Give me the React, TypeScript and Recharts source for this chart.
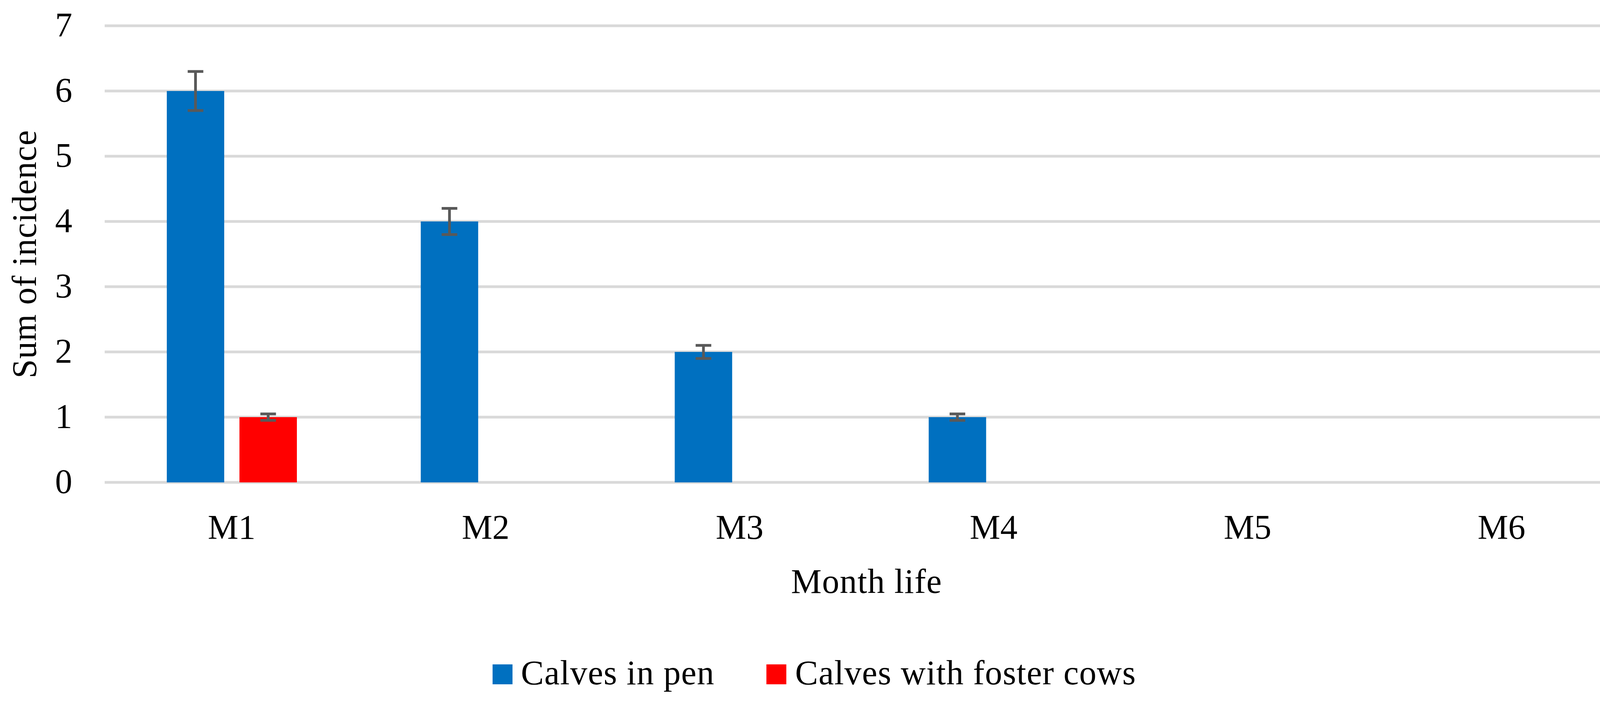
import React from 'react';
import { BarChart, Bar, XAxis, YAxis, CartesianGrid, ErrorBar, Legend, Label } from 'recharts';

const categories = ['M1', 'M2', 'M3', 'M4', 'M5', 'M6'];
const penValues = [6, 4, 2, 1, 0, 0];
const penErrors: (number | null)[] = [0.3, 0.2, 0.1, 0.05, null, null];
const fosterValues = [1, 0, 0, 0, 0, 0];
const fosterErrors: (number | null)[] = [0.05, null, null, null, null, null];
const yTicks = [0, 1, 2, 3, 4, 5, 6, 7];

const seriesNames = ['Calves in pen', 'Calves with foster cows'];
const seriesColors = ['#0070C0', '#FF0000'];

const data = categories.map((c, i) => {
  const row: any = { name: c, pen: penValues[i], foster: fosterValues[i] };
  if (penErrors[i] != null) row.penErr = penErrors[i];
  if (fosterErrors[i] != null) row.fosterErr = fosterErrors[i];
  return row;
});

const FONT = '"Liberation Serif", serif';
const FS = 88;
const LS = 1.3;

const YTitle = (props: any) => {
  const vb = props.viewBox || { x: 0, y: 0, width: 0, height: 0 };
  const cx = vb.x + 92;
  const cy = vb.y + vb.height / 2;
  return (
    <text x={cx} y={cy} transform={`rotate(-90, ${cx}, ${cy})`} textAnchor="middle" fontFamily={FONT} fontSize={FS} fill="#000" style={{ letterSpacing: LS }}>
      Sum of incidence
    </text>
  );
};

const XTitle = (props: any) => {
  const vb = props.viewBox || { x: 0, y: 0, width: 0, height: 0 };
  return (
    <text x={vb.x + vb.width / 2} y={vb.y + 283} textAnchor="middle" fontFamily={FONT} fontSize={FS} fill="#000" style={{ letterSpacing: LS }}>
      Month life
    </text>
  );
};

const YTick = (props: any) => {
  const { x, y, payload } = props;
  return (
    <text x={x} y={y + 27} textAnchor="end" fontFamily={FONT} fontSize={FS} fill="#000">
      {payload.value}
    </text>
  );
};

const LegendContent = () => (
  <div
    style={{
      height: 220,
      boxSizing: 'border-box',
      paddingTop: 114,
      textAlign: 'center',
      fontFamily: FONT,
      fontSize: FS,
      lineHeight: `${FS}px`,
      letterSpacing: LS,
      color: '#000',
      whiteSpace: 'nowrap',
    }}
  >
    {seriesNames.map((n, i) => (
      <span key={n} style={{ marginLeft: i === 0 ? 0 : 133 }}>
        <span style={{ display: 'inline-block', width: 51, height: 51, background: seriesColors[i], marginRight: 22 }} />
        {n}
      </span>
    ))}
  </div>
);

export default function App() {
  return (
    <div style={{ position: 'absolute', left: 0, top: 0, width: 4216, height: 1805, background: '#fff' }}>
      <BarChart
        width={4216}
        height={1805}
        data={data}
        margin={{ top: 66, right: 47, bottom: 20, left: 0 }}
        barSize={147}
        barGap={39}
      >
        <CartesianGrid vertical={false} stroke="#D9D9D9" strokeWidth={7} />
        <XAxis
          dataKey="name"
          height={330}
          axisLine={false}
          tickLine={false}
          tickSize={0}
          tickMargin={82}
          tick={{ fontFamily: FONT, fontSize: FS, fill: '#000' }}
        >
          <Label content={<XTitle />} />
        </XAxis>
        <YAxis
          width={268}
          domain={[0, 7]}
          ticks={yTicks}
          interval={0}
          axisLine={false}
          tickLine={false}
          tickSize={0}
          tickMargin={83}
          tick={<YTick />}
        >
          <Label content={<YTitle />} />
        </YAxis>
        <Legend verticalAlign="bottom" content={<LegendContent />} />
        <Bar dataKey="pen" name={seriesNames[0]} fill={seriesColors[0]} isAnimationActive={false}>
          <ErrorBar dataKey="penErr" width={20} stroke="#595959" strokeWidth={7} />
        </Bar>
        <Bar dataKey="foster" name={seriesNames[1]} fill={seriesColors[1]} isAnimationActive={false}>
          <ErrorBar dataKey="fosterErr" width={20} stroke="#595959" strokeWidth={7} />
        </Bar>
      </BarChart>
    </div>
  );
}
